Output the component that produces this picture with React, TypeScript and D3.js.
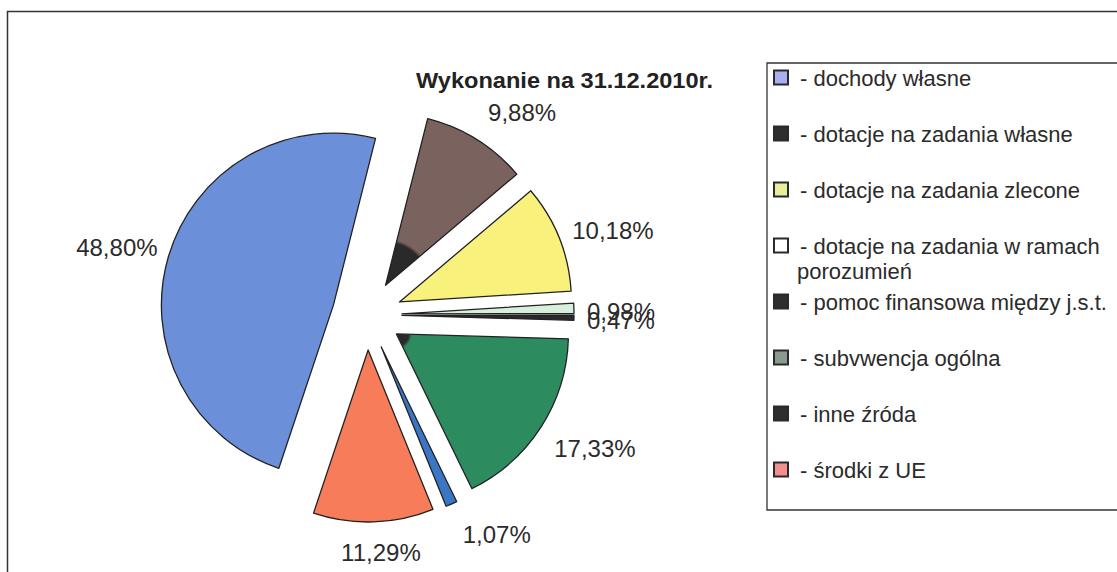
import React from 'react';
import * as d3 from 'd3';

// ---- data ----
const categories = [
  'dochody własne',
  'dotacje na zadania własne',
  'dotacje na zadania zlecone',
  'dotacje na zadania w ramach porozumień',
  'pomoc finansowa między j.s.t.',
  'subvwencja ogólna',
  'inne źróda',
  'środki z UE',
];
const values = [48.8, 9.88, 10.18, 0.98, 0.47, 17.33, 1.07, 11.29];
const title = 'Wykonanie na 31.12.2010r.';

// ---- styles ----
const sliceColors = ['#6b8fd9', '#7a625e', '#f8f27c', '#d8efdc', '#2a2a2a', '#2c8c5f', '#3a76c4', '#f77c5a'];
const swatchColors = ['#aab0ee', '#2e2e2e', '#e8ee9a', '#ffffff', '#2e2e2e', '#8a9a90', '#2e2e2e', '#f29090'];
const darkTip = [0, 0.25, 0, 0, 0, 0.07, 0, 0]; // scanned dark area near the apex
// label placement tweaks (deg offset from bisector, distance of label centre from slice apex)
const labelAngleTweak = [-1.5, 6.4, 3.5, 1.3, 0.4, -2.9, -7.6, -1.8];
const labelDist = [224, 220, 225, 219, 219, 229, 220, 203];

const W = 1117;
const H = 572;
const cx = 367;
const cy = 315;
const R = 172;
const explode = 35;
const startDeg = 198.5;
const textColor = '#2b2b2b';
const font = "'Liberation Sans', Arial, sans-serif";

const fmt = (v: number) => d3.format('.2f')(v).replace('.', ',') + '%';

function wrap(text: string, max: number): string[] {
  const words = text.split(' ');
  const lines: string[] = [];
  let cur = '';
  for (const w of words) {
    const next = cur ? cur + ' ' + w : w;
    if (next.length > max && cur) {
      lines.push(cur);
      cur = w;
    } else cur = next;
  }
  if (cur) lines.push(cur);
  return lines;
}

export default function App() {
  const a0 = (startDeg * Math.PI) / 180;
  const pie = d3.pie<number>().sort(null).startAngle(a0).endAngle(a0 + 2 * Math.PI);
  const arcs = pie(values);
  const arcGen = d3.arc<d3.PieArcDatum<number>>().innerRadius(0).outerRadius(R);

  const legendX = 767;
  const legendTop = 63;
  const legendBottom = 510;
  const itemY0 = 78;
  const itemStep = 56;

  return (
    <svg
      width={W}
      height={H}
      style={{ position: 'absolute', left: 0, top: 0, background: '#fff' }}
      fontFamily={font}
    >
      <rect x={0} y={0} width={W} height={H} fill="#fff" />
      {/* outer frame */}
      <rect x={7.5} y={11.5} width={W + 20} height={H + 20} fill="none" stroke="#333" strokeWidth={1.5} />

      <text
        x={416}
        y={88}
        fontSize={22}
        fontWeight="bold"
        fill="#222"
        textLength={297}
        lengthAdjust="spacingAndGlyphs"
      >
        {title}
      </text>

      <defs>
        {arcs.map((a, i) =>
          darkTip[i] > 0 ? (
            <radialGradient key={i} id={`tip${i}`} gradientUnits="userSpaceOnUse" cx={0} cy={0} r={R}>
              <stop offset={0} stopColor="#2a2a2a" />
              <stop offset={darkTip[i]} stopColor="#2a2a2a" />
              <stop offset={darkTip[i] + 0.02} stopColor={sliceColors[i]} />
              <stop offset={1} stopColor={sliceColors[i]} />
            </radialGradient>
          ) : null
        )}
      </defs>

      {arcs.map((a, i) => {
        const mid = (a.startAngle + a.endAngle) / 2;
        const ox = cx + Math.sin(mid) * explode;
        const oy = cy - Math.cos(mid) * explode;
        return (
          <g key={i} transform={`translate(${ox},${oy})`}>
            <path
              d={arcGen(a) || ''}
              fill={darkTip[i] > 0 ? `url(#tip${i})` : sliceColors[i]}
              stroke="#222"
              strokeWidth={1.3}
              strokeLinejoin="round"
            />
          </g>
        );
      })}

      {arcs.map((a, i) => {
        const mid = (a.startAngle + a.endAngle) / 2;
        const ox = cx + Math.sin(mid) * explode;
        const oy = cy - Math.cos(mid) * explode;
        const la = mid + (labelAngleTweak[i] * Math.PI) / 180;
        const lx = ox + Math.sin(la) * labelDist[i];
        const ly = oy - Math.cos(la) * labelDist[i];
        return (
          <text key={i} x={lx} y={ly} dy="0.36em" textAnchor="middle" fontSize={24} fill={textColor}>
            {fmt(values[i])}
          </text>
        );
      })}

      {/* legend */}
      <path
        d={`M${W + 5},${legendTop} H${legendX} V${legendBottom} H${W + 5}`}
        fill="none"
        stroke="#333"
        strokeWidth={1.3}
      />
      {categories.map((c, i) => {
        const y = itemY0 + i * itemStep;
        const lines = wrap('- ' + c, 32);
        return (
          <g key={i}>
            <rect x={774} y={y - 7.5} width={14} height={14} fill={swatchColors[i]} stroke="#2a2a2a" strokeWidth={2} />
            {lines.map((l, j) => (
              <text key={j} x={j === 0 ? 800 : 797} y={y + j * 25} dy="0.36em" fontSize={22} fill={textColor}>
                {l}
              </text>
            ))}
          </g>
        );
      })}
    </svg>
  );
}
